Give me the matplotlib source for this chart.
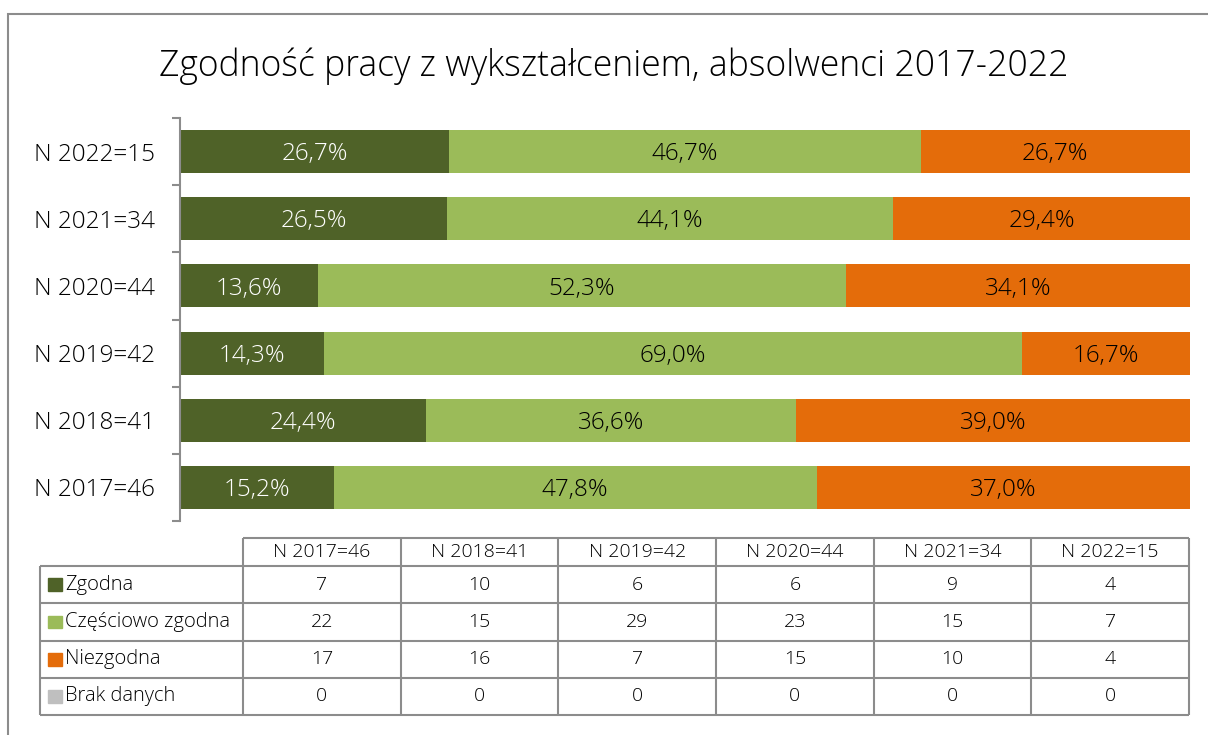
import matplotlib.pyplot as plt
from matplotlib.patches import Rectangle

plt.rcParams['font.family'] = ['Open Sans', 'DejaVu Sans']
plt.rcParams['font.weight'] = 'light'

# data
categories = ['N 2017=46', 'N 2018=41', 'N 2019=42', 'N 2020=44', 'N 2021=34', 'N 2022=15']
series_names = ['Zgodna', 'Częściowo zgodna', 'Niezgodna', 'Brak danych']
zgodna = [7, 10, 6, 6, 9, 4]
czesciowo = [22, 15, 29, 23, 15, 7]
niezgodna = [17, 16, 7, 15, 10, 4]
brak_danych = [0, 0, 0, 0, 0, 0]

series = [zgodna, czesciowo, niezgodna, brak_danych]
colors = ['#4f6228', '#9bbb59', '#e46c0a', '#bfbfbf']
text_colors = ['white', 'black', 'black', 'black']
grid_col = '#8c8c8c'

W, H = 1208, 735
fig = plt.figure(figsize=(W / 100, H / 100), dpi=100)

# frame around the chart
fig.patches.append(Rectangle((8 / W, -0.1), 1.2, 1 - 14 / H + 0.1, transform=fig.transFigure,
                             fill=False, ec=grid_col, lw=1.5))

fig.text(614 / W, 1 - 66 / H, 'Zgodność pracy z wykształceniem, absolwenci 2017-2022',
         ha='center', va='center', fontsize=25.6, color='#000000')

# bars
ax = fig.add_axes([180 / W, 1 - 521 / H, (1190 - 180) / W, (521 - 118) / H])
totals = [sum(s[i] for s in series) for i in range(len(categories))]
ypos = list(range(len(categories)))
left = [0.0] * len(categories)
for k, s in enumerate(series):
    shares = [s[i] / totals[i] for i in ypos]
    ax.barh(ypos, shares, left=left, height=0.64, color=colors[k], label=series_names[k])
    for i in ypos:
        if s[i] > 0:
            lab = f'{shares[i] * 100:.1f}'.replace('.', ',') + '%'
            ax.text(left[i] + shares[i] / 2, i - 0.04, lab, ha='center', va='center',
                    color=text_colors[k], fontsize=17.5)
    left = [left[i] + shares[i] for i in ypos]

ax.set_xlim(0, 1)
ax.set_ylim(-0.5, len(categories) - 0.5)
ax.set_xticks([])
ax.set_yticks([i - 0.5 for i in range(len(categories) + 1)])
ax.set_yticklabels([])
ax.set_yticks(ypos, minor=True)
ax.set_yticklabels(categories, minor=True, fontsize=17.5)
ax.tick_params(axis='y', which='major', length=6, width=1.5, color=grid_col)
ax.tick_params(axis='y', which='minor', length=0, pad=18)
for side in ['top', 'right', 'bottom']:
    ax.spines[side].set_visible(False)
ax.spines['left'].set_color(grid_col)
ax.spines['left'].set_linewidth(1.5)

# data table
label_w = 203 / 157.7
head_h = 28 / 37
tax = fig.add_axes([40 / W, 1 - 715 / H, (1189 - 40) / W, (715 - 538) / H])
ncol = len(categories)
nrow = len(series_names)
tax.set_xlim(-label_w, ncol)
tax.set_ylim(nrow, -head_h)
tax.axis('off')

lkw = dict(color=grid_col, lw=1.5, clip_on=False)
tax.hlines(-head_h, 0, ncol, **lkw)
tax.hlines(range(nrow + 1), -label_w, ncol, **lkw)
tax.vlines(range(ncol + 1), -head_h, nrow, **lkw)
tax.vlines(-label_w, 0, nrow, **lkw)

for j, cat in enumerate(categories):
    tax.text(j + 0.5, -head_h / 2, cat, ha='center', va='center', fontsize=14)
for r, name in enumerate(series_names):
    tax.add_patch(Rectangle((-label_w + 0.05, r + 0.33), 0.09, 0.34, color=colors[r], clip_on=False))
    tax.text(-label_w + 0.16, r + 0.5, name, ha='left', va='center', fontsize=14.5)
    for j in range(ncol):
        tax.text(j + 0.5, r + 0.5, str(series[r][j]), ha='center', va='center', fontsize=14)

fig.savefig('out.png', dpi=100)
